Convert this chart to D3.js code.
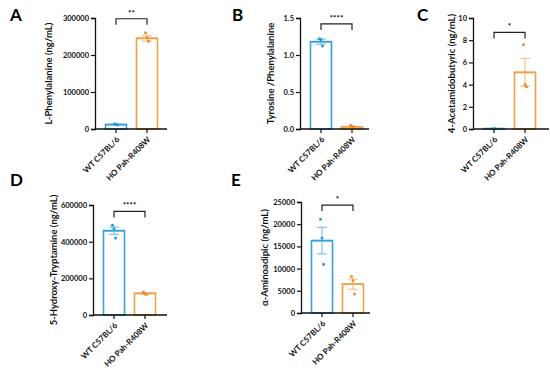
<!DOCTYPE html>
<html>
<head>
    <title>Metabolites</title>
    <script src="https://d3js.org/d3.v7.min.js"></script>
    <style>
        body { margin: 0; background: #fff; }
        text { font-family: Lato, "Open Sans", sans-serif; }
    </style>
</head>
<body>
<svg width="550" height="374"></svg>
<script>
    const groups = ["WT C57BL/6", "HO Pah-R408W"];
    const panelIds = ["A", "B", "C", "D", "E"];
    const yTitles = ["L-Phenylalanine (ng/mL)", "Tyrosine /Phenylalanine", "4-Acetamidobutyric (ng/mL)",
        "5-Hydroxy-Tryptamine (ng/mL)", "\u03b1-Aminoadipic (ng/mL)"];
    const yTicks = [
        [0, 100000, 200000, 300000],
        [0, 0.5, 1.0, 1.5],
        [0, 2, 4, 6, 8, 10],
        [0, 200000, 400000, 600000],
        [0, 5000, 10000, 15000, 20000, 25000]
    ];
    const wtMean = [12000, 1.18, 0.03, 460000, 16300];
    const wtSem = [1000, 0.035, 0.005, 20000, 3000];
    const hoMean = [245000, 0.03, 5.1, 118000, 6500];
    const hoSem = [7000, 0.005, 1.25, 3500, 1150];
    const wtPoints = [[14000, 12500, 11000], [1.22, 1.21, 1.12], [0.03, 0.03, 0.03], [490000, 470000, 420000], [21100, 16900, 11000]];
    const hoPoints = [[260000, 248000, 237000], [0.05, 0.03, 0.03], [7.6, 4.0, 3.8], [125000, 115000, 113000], [8200, 7300, 4300]];
    const stars = ["**", "****", "*", "****", "*"];
    const bracketAt = [298000, 1.42, 8.7, 565000, 24300];

    // plot frames (pixels)
    const frames = [
        {x0: 95, x1: 167, top: 18, bottom: 129, lx: 10, ly: 21, tx: 52},
        {x0: 300, x1: 369, top: 18, bottom: 129, lx: 232, ly: 21, tx: 274},
        {x0: 473, x1: 549, top: 18, bottom: 129, lx: 417, ly: 21, tx: 455},
        {x0: 93, x1: 167, top: 205, bottom: 315, lx: 10, ly: 186, tx: 57},
        {x0: 301, x1: 370, top: 202, bottom: 313, lx: 231, ly: 186, tx: 268}
    ];

    const barStroke = ["#36a2dc", "#f0a048"];
    const errColor = ["#7cc4ea", "#f5c48e"];
    const dotColor = ["#2a98d4", "#ec8c2c"];

    const svg = d3.select("svg");

    panelIds.forEach((id, i) => {
        const f = frames[i];
        const g = svg.append("g");
        const ticks = yTicks[i];
        const y = d3.scaleLinear().domain([0, ticks[ticks.length - 1]]).range([f.bottom, f.top]);
        const x = d3.scalePoint().domain(groups).range([f.x0 + 21, f.x0 + 52]);
        const fmt = i === 1 ? d3.format(".1f") : d3.format("d");
        const bw = 21;

        const rows = [
            {grp: groups[0], mean: wtMean[i], sem: wtSem[i], pts: wtPoints[i], c: 0},
            {grp: groups[1], mean: hoMean[i], sem: hoSem[i], pts: hoPoints[i], c: 1}
        ];

        // bars
        g.selectAll(".bar").data(rows).enter().append("rect")
            .attr("x", d => x(d.grp) - bw / 2)
            .attr("y", d => y(d.mean))
            .attr("width", bw)
            .attr("height", d => f.bottom - y(d.mean))
            .attr("fill", "#fff")
            .attr("stroke", d => barStroke[d.c])
            .attr("stroke-width", 1.6);

        // error bars and points
        rows.forEach(d => {
            const cx = x(d.grp);
            g.append("line").attr("x1", cx).attr("x2", cx)
                .attr("y1", y(d.mean - d.sem)).attr("y2", y(d.mean + d.sem))
                .attr("stroke", errColor[d.c]).attr("stroke-width", 1.2);
            [d.mean - d.sem, d.mean + d.sem].forEach(v => {
                g.append("line").attr("x1", cx - 5).attr("x2", cx + 5)
                    .attr("y1", y(v)).attr("y2", y(v))
                    .attr("stroke", errColor[d.c]).attr("stroke-width", 1.2);
            });
            g.append("line").attr("x1", cx - bw / 2).attr("x2", cx + bw / 2)
                .attr("y1", y(d.mean)).attr("y2", y(d.mean))
                .attr("stroke", barStroke[d.c]).attr("stroke-width", 1.6);
            g.selectAll(null).data(d.pts).enter().append("circle")
                .attr("cx", (p, k) => cx + (k - 1) * 1.5)
                .attr("cy", p => y(p))
                .attr("r", 1.5)
                .attr("fill", dotColor[d.c]);
        });

        // y axis
        const ya = g.append("g")
            .attr("transform", "translate(" + f.x0 + ",0)")
            .call(d3.axisLeft(y).tickValues(ticks).tickFormat(fmt).tickSize(4).tickPadding(2));
        ya.select(".domain").attr("stroke", "#111").attr("stroke-width", 1.3);
        ya.selectAll(".tick line").attr("stroke", "#111").attr("stroke-width", 1.2);
        ya.selectAll(".tick text").attr("font-size", "7.5px").attr("font-weight", "bold").attr("fill", "#111");

        // x axis
        const xa = g.append("g")
            .attr("transform", "translate(0," + f.bottom + ")");
        xa.append("line").attr("x1", f.x0).attr("x2", f.x1)
            .attr("stroke", "#111").attr("stroke-width", 1.3);
        groups.forEach(grp => {
            xa.append("line").attr("x1", x(grp)).attr("x2", x(grp))
                .attr("y1", 0).attr("y2", 4).attr("stroke", "#111").attr("stroke-width", 1.2);
            xa.append("text")
                .attr("transform", "translate(" + (x(grp) + 2) + ",9) rotate(-45)")
                .attr("text-anchor", "end")
                .attr("dy", "0.35em")
                .attr("font-size", "8px")
                .attr("font-weight", "bold")
                .attr("fill", "#111")
                .text(grp);
        });

        // significance bracket
        const by = y(bracketAt[i]);
        const bx1 = x(groups[0]), bx2 = x(groups[1]);
        g.append("path")
            .attr("d", "M" + bx1 + "," + (by + 6) + "V" + by + "H" + bx2 + "V" + (by + 6))
            .attr("fill", "none").attr("stroke", "#222").attr("stroke-width", 1.2);
        g.append("text")
            .attr("x", (bx1 + bx2) / 2).attr("y", by - 3)
            .attr("text-anchor", "middle")
            .attr("font-size", "8px").attr("font-weight", "bold")
            .text(stars[i]);

        // y title
        g.append("text")
            .attr("transform", "translate(" + f.tx + "," + ((f.top + f.bottom) / 2) + ") rotate(-90)")
            .attr("text-anchor", "middle")
            .attr("font-size", "9.5px")
            .attr("font-weight", "bold")
            .attr("fill", "#111")
            .text(yTitles[i]);

        // panel letter
        g.append("text")
            .attr("x", f.lx).attr("y", f.ly)
            .attr("font-size", "17px")
            .attr("font-weight", "bold")
            .text(id);
    });
</script>
</body>
</html>
